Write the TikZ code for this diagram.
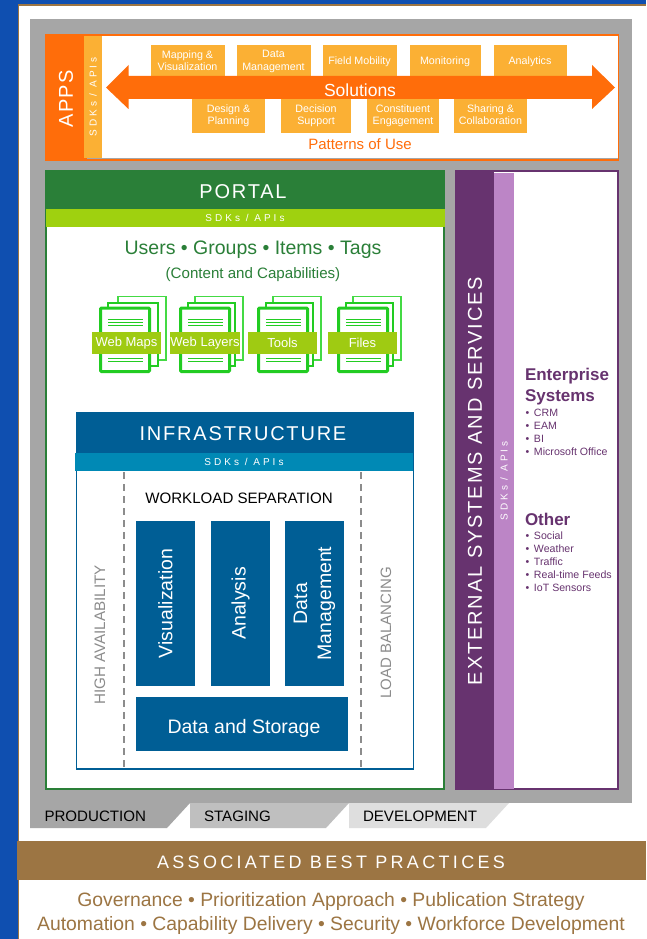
\documentclass[tikz,border=0pt]{standalone}
\usepackage{fontspec}
\setmainfont{Liberation Sans}
\usetikzlibrary{positioning}

\definecolor{pageblue}{HTML}{0F4FB0}
\definecolor{bronze}{HTML}{9C7543}
\definecolor{platter}{HTML}{A6A6A6}
\definecolor{appsorange}{HTML}{FF6D0A}
\definecolor{appslight}{HTML}{FBB034}
\definecolor{portalgreen}{HTML}{2A7F38}
\definecolor{portallime}{HTML}{9FD10F}
\definecolor{labellime}{HTML}{9FCB12}
\definecolor{docgreen}{HTML}{22CC22}
\definecolor{docpale}{HTML}{44DA44}
\definecolor{infrablue}{HTML}{005E95}
\definecolor{infrateal}{HTML}{0089B5}
\definecolor{extpurple}{HTML}{67336F}
\definecolor{extlilac}{HTML}{BC85C6}
\definecolor{greytext}{HTML}{8C8C8C}

\newcommand{\fsize}[2]{\fontsize{#1}{#2}\selectfont}
\newcommand{\spacedfont}[1]{\addfontfeature{LetterSpace=#1}}
\newcommand{\itembullet}{\makebox[8.5pt][l]{•}}

\begin{document}
\begin{tikzpicture}[x=1pt,y=-1pt]
  \tikzset{
    every node/.style={inner sep=0pt,outer sep=0pt},
    node distance=12pt,
    title/.style={text=white,font=\fsize{20}{24}\spacedfont{9}},
    sdkband/.style={minimum height=18pt,text=white,font=\fsize{10}{12}\spacedfont{30}},
    usecase/.style={fill=appslight,minimum width=74pt,align=center,text=white,text depth=3pt,font=\fsize{10.7}{12.7}},
    toprow/.style={usecase,minimum height=34pt},
    lowrow/.style={usecase,minimum height=34pt,minimum width=72pt},
    doclabel/.style={fill=labellime,minimum width=69pt,minimum height=22pt,text=white,font=\fsize{13}{15}},
    workload/.style={fill=infrablue,minimum width=165pt,minimum height=59pt,rotate=90,align=center,text=white,font=\fsize{19.5}{24}},
    sidetext/.style={rotate=90,text=greytext,font=\fsize{15.2}{17}},
    docline/.style={docgreen,line width=.8pt},
    tier/.style={text=black,anchor=west,font=\fsize{15.1}{17}},
    head/.style={anchor=north west,align=left,text=extpurple,font=\fsize{17}{21}\bfseries},
    items/.style={anchor=north west,align=left,text=extpurple,font=\fsize{10.6}{13}},
    practice/.style={text=bronze,font=\fsize{19.35}{23}},
  }
  \path[use as bounding box,fill=white] (0,0) rectangle (646,939);

  % page edge
  \fill[pageblue] (0,0) rectangle (646,4.5);
  \fill[pageblue] (0,0) rectangle (17.5,939);
  \draw[bronze,line width=1.5pt] (18.5,939) -- (18.5,5) -- (646,5);
  \fill[platter] (30,19) rectangle (632,803);

  % apps
  \draw[appsorange,fill=white,line width=1.5pt] (46,35) rectangle (618.5,160);
  \fill[platter] (87,157.7) rectangle (617.5,158.9);
  \node [fill=appsorange,minimum width=41pt,minimum height=127pt] (appsbar) at (66,97.5) {};
  \node [title,rotate=90,font=\fsize{20}{24}\spacedfont{6}] (apps) at (66,99) {APPS};
  \node [sdkband,fill=appslight,rotate=90,minimum width=121pt] (appssdk) at (93,97) {SDKs / APIs};
  \node [toprow] (mapping) at (187.5,62) {Mapping \&\\Visualization};
  \node [toprow] (datamgmt) [right=of mapping] {Data\\Management};
  \node [toprow] (mobility) [right=of datamgmt] {Field Mobility};
  \node [toprow,minimum width=71pt] (monitoring) [right=13pt of mobility] {Monitoring};
  \node [toprow,minimum width=73pt] (analytics) [right=13pt of monitoring] {Analytics};
  \node [lowrow,minimum width=73pt] (design) at (228.5,116) {Design \&\\Planning};
  \node [lowrow,minimum width=70pt] (decision) [right=16pt of design] {Decision\\Support};
  \node [lowrow] (constituent) [right=16pt of decision] {Constituent\\Engagement};
  \node [lowrow,minimum width=73pt] (sharing) [right=15pt of constituent] {Sharing \&\\Collaboration};
  \fill[appsorange] (106,87.5) -- (128.5,65) -- (128.5,76) -- (592,76) -- (592,65)
    -- (615,87.5) -- (592,109) -- (592,99) -- (128.5,99) -- (128.5,109) -- cycle;
  \node [text=white,font=\fsize{17.5}{20}] (solutions) at (360,90) {Solutions};
  \node [text=appsorange,font=\fsize{15}{17}] (patterns) at (360,144) {Patterns of Use};

  % portal
  \draw[portalgreen,fill=white,line width=1.5pt] (46,171) rectangle (444,789);
  \fill[portalgreen] (45.3,170) rectangle (444.7,209);
  \node [title] (portal) at (243,192) {PORTAL};
  \node [sdkband,fill=portallime,minimum width=399pt] (portalsdk) at (245,218) {SDKs / APIs\hspace{3pt}};
  \node [text=portalgreen,font=\fsize{19.5}{24}] (users) at (253,250) {Users • Groups • Items • Tags};
  \node [text=portalgreen,font=\fsize{15.1}{17}] (content) at (253,275) {(Content and Capabilities)};
  \foreach \x/\dx/\lx/\name/\txt in {99/3/126.5/webmaps/Web Maps,179/0/205/weblayers/Web Layers,257/0/282.5/tools/Tools,337/0/362.5/files/Files}{
    \draw[docpale,fill=white,line width=1.2pt] (\x+16+\dx,296.5) rectangle (\x+64+\dx,360);
    \draw[docgreen,fill=white,line width=1.5pt] (\x+9,303) rectangle (\x+56+\dx,366);
    \draw[docgreen,fill=white,line width=3pt,rounded corners=1pt] (\x+1.5,308) rectangle (\x+50.5,371.5);
    \foreach \y in {319,322,325,358,361}
      \draw[docline] (\x+9,\y) -- (\x+44,\y);
    \node [doclabel] (\name) at (\lx,343) {\txt};
  }

  % infrastructure
  \draw[infrablue,fill=white,line width=1.5pt] (76.5,413) rectangle (413.5,769);
  \fill[infrablue] (76,412) rectangle (414,453);
  \node [title,font=\fsize{20}{24}\spacedfont{9}] (infra) at (243,434) {INFRASTRUCTURE};
  \node [sdkband,fill=infrateal,minimum width=338pt] (infrasdk) at (244,462) {SDKs / APIs\hspace{2pt}};
  \draw[greytext,dashed,line width=1.4pt,dash pattern=on 7pt off 5pt] (124,472) -- (124,768);
  \draw[greytext,dashed,line width=1.4pt,dash pattern=on 7pt off 5pt] (361,472) -- (361,768);
  \node [sidetext] (ha) at (100,635) {HIGH AVAILABILITY};
  \node [sidetext,font=\fsize{15}{17}] (lb) at (386,633) {LOAD BALANCING};
  \node [text=black,font=\fsize{15.1}{17}] (separation) at (239,498) {WORKLOAD SEPARATION};
  \node [workload] (visual) at (165.5,603.5) {Visualization};
  \node [workload] (analysis) at (240.5,603.5) {Analysis};
  \node [workload] (datam) at (314.5,603.5) {Data\\Management};
  \node [fill=infrablue,minimum width=212pt,minimum height=54pt] (storage) at (242,724) {};
  \node [text=white,font=\fsize{19.5}{24}] (storagetext) at (244,728) {Data and Storage};

  % external
  \draw[extpurple,fill=white,line width=1.5pt] (456,171) rectangle (618,789);
  \node [fill=extpurple,rotate=90,minimum width=619pt,minimum height=39pt] (extbar) at (474.5,479.5) {};
  \node [title,rotate=90,font=\fsize{20}{24}\spacedfont{9.5}] (external) at (475,481) {EXTERNAL SYSTEMS AND SERVICES};
  \node [sdkband,fill=extlilac,rotate=90,minimum width=616pt,minimum height=20pt] (extsdk) at (504,481) {SDKs / APIs};
  \node [head] (enterprise) at (525,368) {Enterprise\\Systems};
  \node [items] (entlist) at (525.5,409.5) {\itembullet CRM\\\itembullet EAM\\\itembullet BI\\\itembullet Microsoft Office};
  \node [head] (other) at (525,513.5) {Other};
  \node [items] (otherlist) at (525.5,531.5) {\itembullet Social\\\itembullet Weather\\\itembullet Traffic\\\itembullet Real-time Feeds\\\itembullet IoT Sensors};

  % tiers
  \fill[platter] (30,803) -- (190,803) -- (167,828) -- (30,828) -- cycle;
  \fill[black!25] (190,803) -- (349,803) -- (326,828) -- (190,828) -- cycle;
  \fill[black!13] (349,803) -- (509,803) -- (486,828) -- (349,828) -- cycle;
  \node [tier] (production) at (44.5,816.5) {PRODUCTION};
  \node [tier] (staging) at (204,816.5) {STAGING};
  \node [tier] (development) at (363,816.5) {DEVELOPMENT};

  % practices
  \fill[bronze] (17,841) rectangle (646,880);
  \node [text=white,font=\fsize{18}{22}\spacedfont{18.5}] (bestpractices) at (331,862.5) {ASSOCIATED BEST PRACTICES};
  \node [practice] (practices1) at (331,901.5) {Governance • Prioritization Approach • Publication Strategy};
  \node [practice] (practices2) [below=5.5pt of practices1] {Automation • Capability Delivery • Security • Workforce Development};
\end{tikzpicture}
\end{document}
